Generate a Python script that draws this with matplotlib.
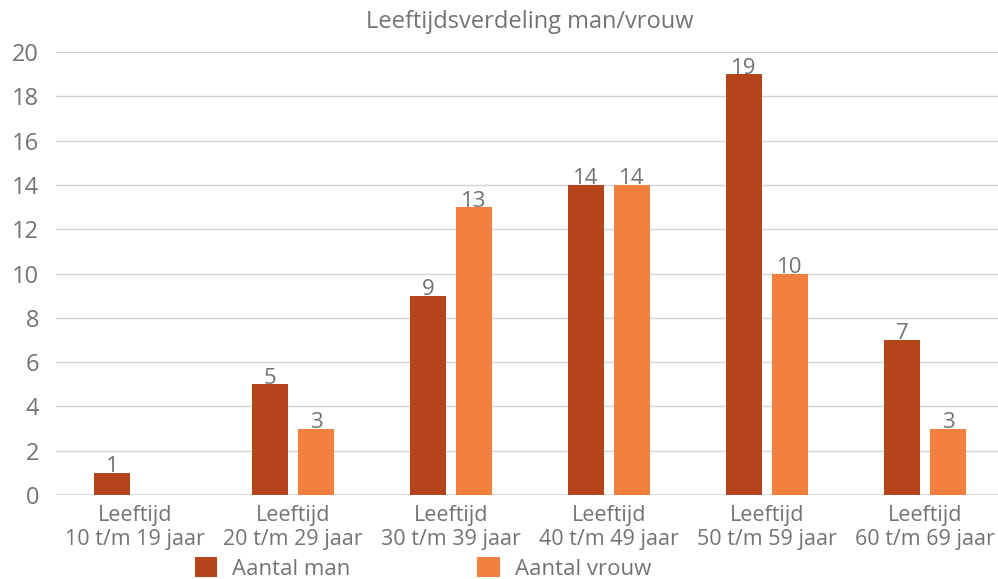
import numpy as np
import matplotlib.pyplot as plt

categories = ["Leeftijd\n10 t/m 19 jaar", "Leeftijd\n20 t/m 29 jaar", "Leeftijd\n30 t/m 39 jaar",
              "Leeftijd\n40 t/m 49 jaar", "Leeftijd\n50 t/m 59 jaar", "Leeftijd\n60 t/m 69 jaar"]
man = [1, 5, 9, 14, 19, 7]
vrouw = [0, 3, 13, 14, 10, 3]

plt.rcParams['font.family'] = ['Open Sans', 'DejaVu Sans']
grey = '#737373'

fig = plt.figure(figsize=(9.98, 5.79), dpi=100)
ax = fig.add_axes([0.056, 0.145, 0.950, 0.765])

x = np.arange(len(categories))
w = 0.228
b1 = ax.bar(x - 0.146, man, w, color='#B5441A', label='Aantal man', zorder=3)
b2 = ax.bar(x + 0.146, vrouw, w, color='#F0803C', label='Aantal vrouw', zorder=3)

# value labels above each bar (empty bars get none)
for bars in (b1, b2):
    for r in bars:
        v = r.get_height()
        if v > 0:
            ax.text(r.get_x() + r.get_width() / 2, v - 0.2, f"{v:g}", ha='center', va='bottom',
                    fontsize=16, color=grey)

ax.set_ylim(0, 20)
ax.set_xlim(-0.5, len(categories) - 0.5)
ax.set_yticks(range(0, 21, 2))
ax.set_xticks(x)
ax.set_xticklabels(categories, fontsize=15.5, color=grey, linespacing=1.2)
ax.tick_params(axis='y', labelsize=17, colors=grey, length=0, pad=12)
ax.tick_params(axis='x', length=0, pad=7)
ax.grid(axis='y', color='#d4d4d4', linewidth=1, zorder=0)
for s in ax.spines.values():
    s.set_visible(False)
ax.axhline(0, color='#d4d4d4', linewidth=1.8, zorder=2)

ax.set_title("Leeftijdsverdeling man/vrouw", fontsize=17, color=grey, pad=17)

fig.legend(handles=[b1, b2], loc='lower center', bbox_to_anchor=(0.424, -0.036), ncol=2,
           frameon=False, fontsize=16, labelcolor=grey, columnspacing=5.7,
           handlelength=1.0, handleheight=1.0, handletextpad=0.7)

fig.savefig('out.png', dpi=100)
